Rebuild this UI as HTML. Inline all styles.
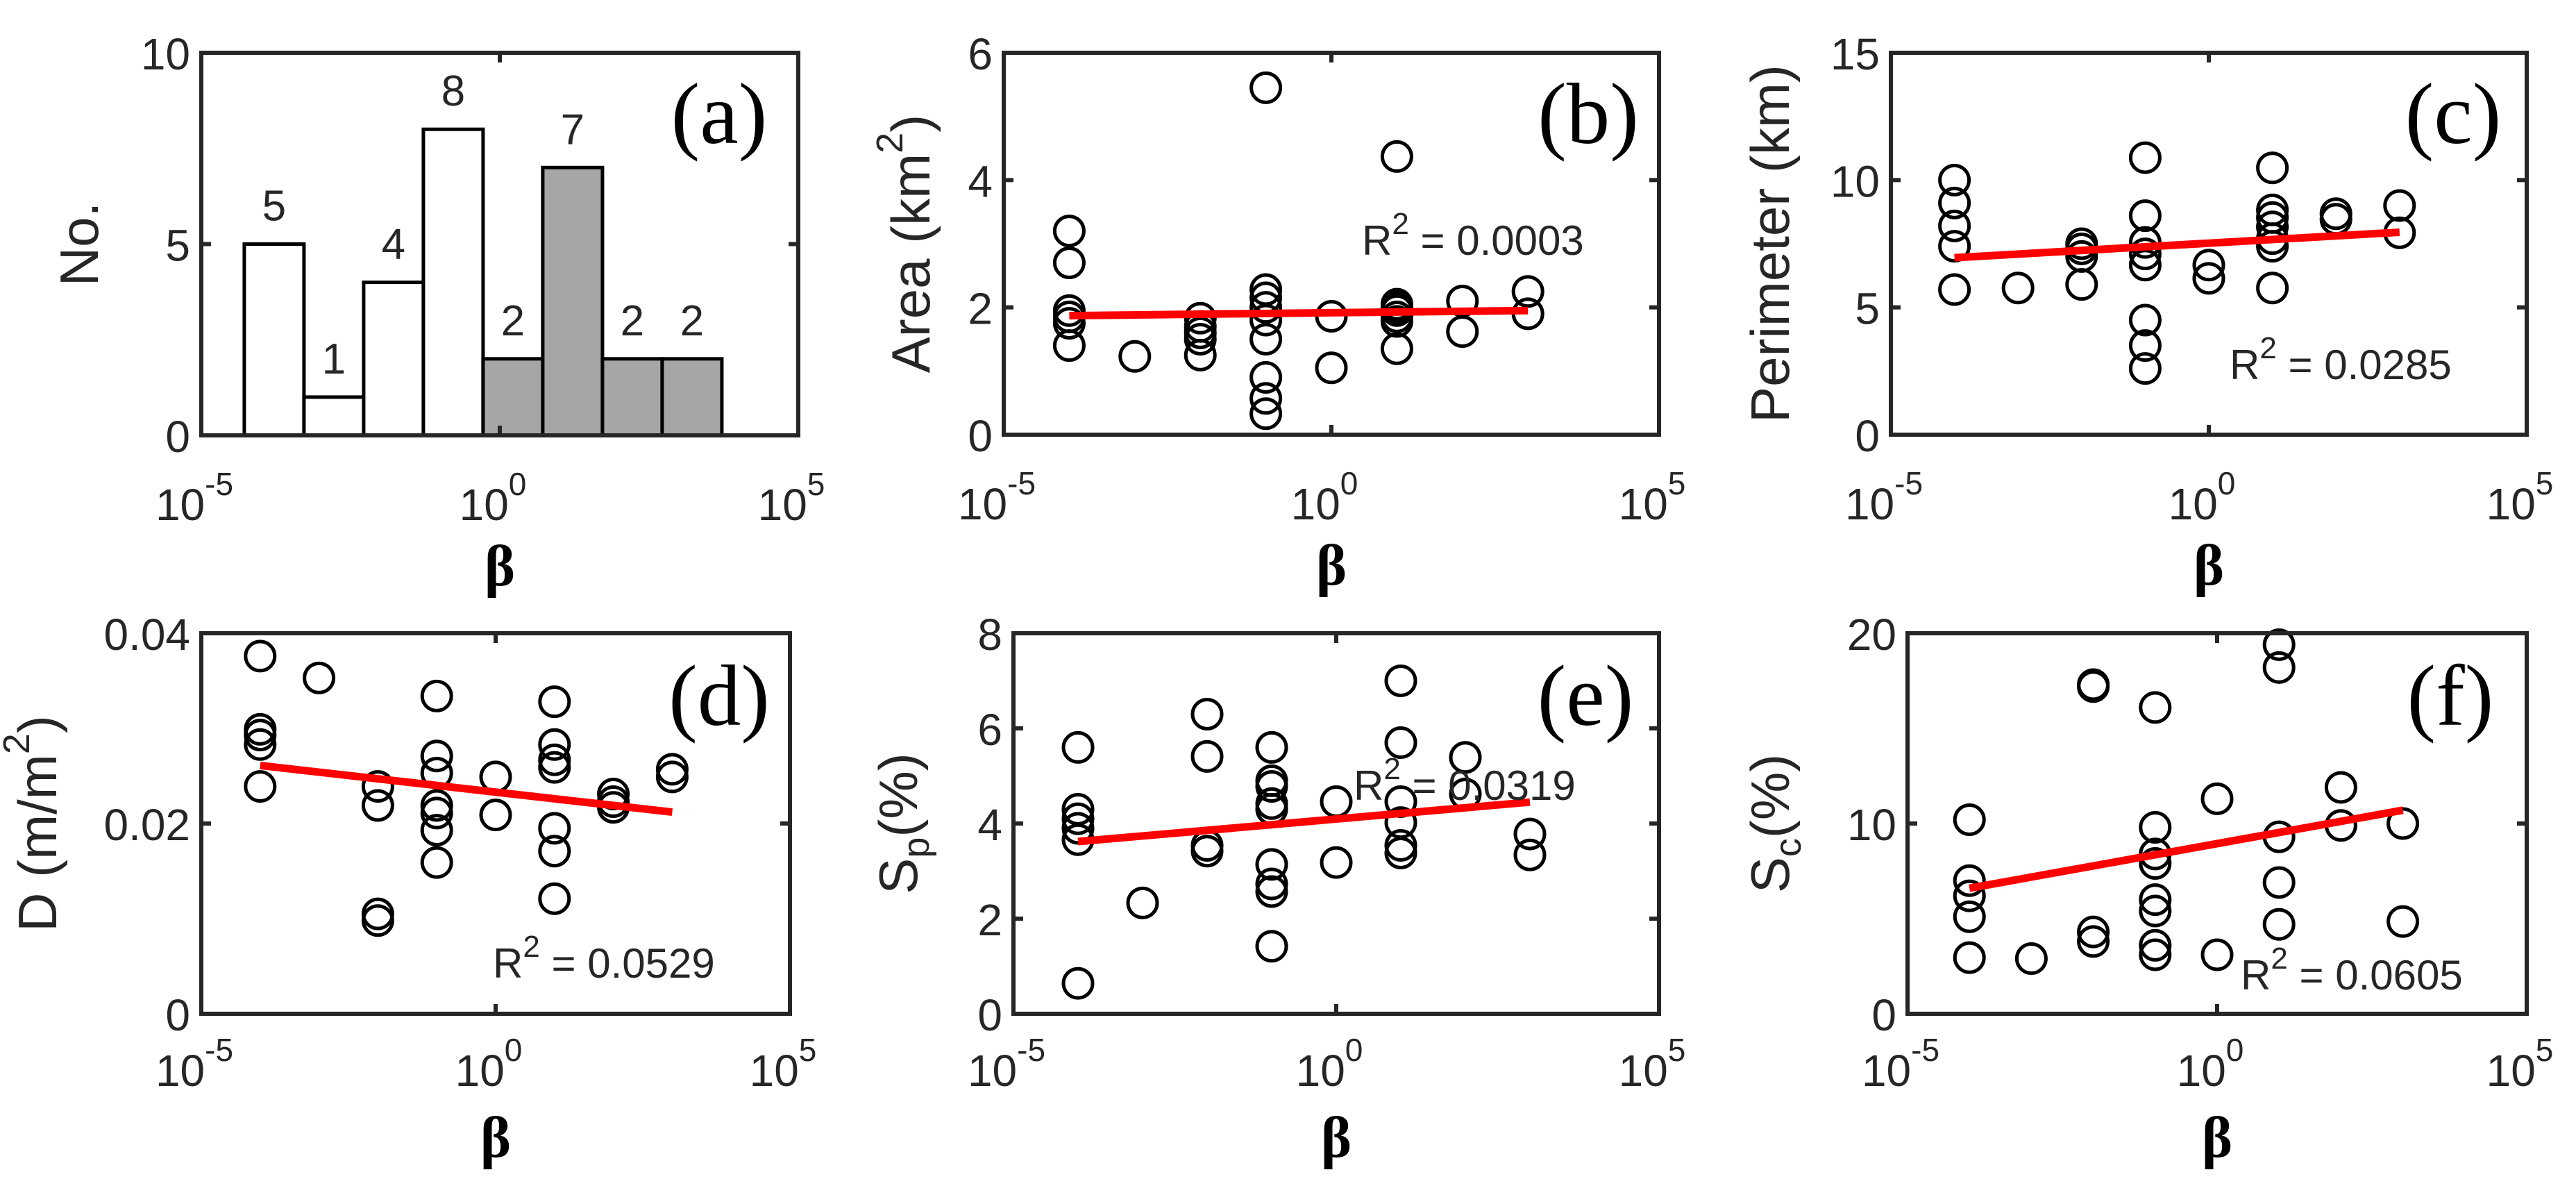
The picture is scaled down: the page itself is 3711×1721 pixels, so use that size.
<!DOCTYPE html>
<html><head><meta charset="utf-8"><style>
html,body{margin:0;padding:0;background:#fff;}
svg{display:block;}
text{font-family:"Liberation Sans",sans-serif;fill:#262626;}
.serif{font-family:"Liberation Serif",serif;fill:#000;}
</style></head><body>
<svg id="fig" width="3711" height="1721" viewBox="0 0 3711 1721" xmlns="http://www.w3.org/2000/svg"></svg>
<script>
// ---------- data ----------
const histCounts = [5, 1, 4, 8, 2, 7, 2, 2];
const histStartLog = -4.28;
const histShaded = [false, false, false, false, true, true, true, true];

const areaX = [-4,-4,-4,-4,-4,-4,-3,-2,-2,-2,-2,-2,-1,-1,-1,-1,-1,-1,-1,-1,-1,0,0,1,1,1,1,1,1,1,2,2,3,3];
const areaY = [3.2,2.7,1.95,1.85,1.75,1.4,1.23,1.83,1.7,1.6,1.5,1.25,5.45,2.28,2.15,2.0,1.8,1.5,0.9,0.57,0.33,1.86,1.05,4.37,2.05,2.0,1.95,1.85,1.78,1.35,2.1,1.62,2.25,1.9];
const areaFit = [1.87, 1.95];

const perimX = [-4,-4,-4,-4,-4,-3,-2,-2,-2,-2,-1,-1,-1,-1,-1,-1,-1,-1,0,0,1,1,1,1,1,1,1,2,2,3,3];
const perimY = [10.0,9.1,8.2,7.4,5.7,5.76,7.5,7.3,7.0,5.9,10.88,8.6,7.55,7.1,6.66,4.5,3.5,2.6,6.66,6.14,10.48,8.83,8.53,8.16,7.7,7.4,5.76,8.68,8.46,9.0,7.93];
const perimFit = [6.95, 7.95];

const dX = [-4,-4,-4,-4,-4,-3,-2,-2,-2,-2,-1,-1,-1,-1,-1,-1,-1,0,0,1,1,1,1,1,1,1,2,2,2,3,3];
const dY = [0.0376,0.0299,0.0293,0.0283,0.0239,0.0353,0.0239,0.0219,0.0105,0.0098,0.0334,0.0271,0.0253,0.0219,0.0211,0.0193,0.0159,0.0249,0.0209,0.0328,0.0283,0.0267,0.0259,0.0195,0.0171,0.0121,0.0231,0.0223,0.0217,0.0257,0.0249];
const dFit = [0.0261, 0.0212];

const spX = [-4,-4,-4,-4,-4,-4,-3,-2,-2,-2,-2,-1,-1,-1,-1,-1,-1,-1,-1,-1,0,0,1,1,1,1,1,1,2,2,3,3];
const spY = [5.6,4.3,4.1,3.9,3.66,0.64,2.33,6.3,5.41,3.54,3.42,5.6,4.9,4.78,4.42,4.3,3.14,2.73,2.57,1.42,4.46,3.18,7.0,5.7,4.46,4.02,3.54,3.38,5.39,4.62,3.78,3.34];
const spFit = [3.62, 4.45];

const scX = [-4,-4,-4,-4,-4,-3,-2,-2,-2,-2,-1,-1,-1,-1,-1,-1,-1,-1,0,0,1,1,1,1,1,2,2,3,3];
const scY = [10.2,7.0,6.2,5.1,2.95,2.9,17.3,17.2,4.3,3.8,16.1,9.8,8.4,7.9,6.0,5.4,3.6,3.1,11.3,3.1,19.4,18.2,9.3,6.9,4.7,11.9,9.9,10.0,4.85];
const scFit = [6.6, 10.7];

const xTickExp = ['-5','0','5'];

// ---------- helpers ----------
const NS = 'http://www.w3.org/2000/svg';
const svg = document.getElementById('fig');
function el(tag, attrs, parent, txt){
  const e = document.createElementNS(NS, tag);
  for (const k in attrs) e.setAttribute(k, attrs[k]);
  if (txt !== undefined) e.textContent = txt;
  (parent || svg).appendChild(e);
  return e;
}

function makeAxes(p){
  const g = el('g', {});
  
  
  const xs = v => p.L + (v + 5) / 10 * (p.R - p.L);
  const ys = v => p.B - v / p.ymax * (p.B - p.T);
  return {g, xs, ys};
}

function drawFrame(p, g, xs, ys){
  const tdy = p.tickDy || 122, bdy = p.betaDy || 216;
  const frame = el('rect', {x:p.L, y:p.T, width:p.R-p.L, height:p.B-p.T, fill:'none', stroke:'#262626', 'stroke-width':6}, g);
  
  
  [-5,0,5].forEach((v,i)=>{
    const x = xs(v);
    el('line',{x1:x,y1:p.B,x2:x,y2:p.B-14,stroke:'#262626','stroke-width':6},g);
    el('line',{x1:x,y1:p.T,x2:x,y2:p.T+14,stroke:'#262626','stroke-width':6},g);
    const t = el('text',{x:x-10,y:p.B+tdy,'font-size':64,'text-anchor':'middle'},g);
    
    
    el('tspan',{},t,'10');
    el('tspan',{dy:-36,'font-size':46},t,xTickExp[i]);
  });
  p.yticks.forEach((v,i)=>{
    const y = ys(v);
    el('line',{x1:p.L,y1:y,x2:p.L+14,y2:y,stroke:'#262626','stroke-width':6},g);
    el('line',{x1:p.R,y1:y,x2:p.R-14,y2:y,stroke:'#262626','stroke-width':6},g);
    const t = el('text',{x:p.L-16,y:y+24,'font-size':64,'text-anchor':'end'},g,p.ylabels[i]);
    
    
  });
  const xt = el('text',{class:'serif',x:(p.L+p.R)/2,y:p.B+bdy,'font-size':84,'font-weight':'bold','text-anchor':'middle'},g,'β');
  
  
  const cy = (p.T+p.B)/2;
  const yt = el('text',{x:p.yTitleX,y:cy,'font-size':78,'text-anchor':'middle',transform:'rotate(-90 '+p.yTitleX+' '+cy+')','dominant-baseline':'middle'},g);
  
  
  p.yTitle.forEach(part=>{
    const a = {};
    if (part.sup) { a.dy = -32; a['font-size'] = 54; }
    if (part.sub) { a.dy = 24; a['font-size'] = 54; }
    if (part.back) { a.dy = part.back; }
    el('tspan',a,yt,part.t);
  });
  const pl = el('text',{class:'serif',x:p.lab[0],y:p.lab[1],'font-size':125,'text-anchor':'middle'},g,'('+p.id+')');
  
  
}

function scatter(p, X, Y, fit, r2){
  const {g, xs, ys} = makeAxes(p);
  X.forEach((xv,i)=>{
    const c = el('circle',{cx:xs(xv),cy:ys(Y[i]),r:21,fill:'none',stroke:'#000','stroke-width':5},g);
    
    
  });
  const ln = el('line',{x1:xs(-4),y1:ys(fit[0]),x2:xs(3),y2:ys(fit[1]),stroke:'#ff0000','stroke-width':11},g);
  
  
  const t = el('text',{x:p.r2[0],y:p.r2[1],'font-size':60,fill:'#000'},g);
  
  
  el('tspan',{},t,'R');
  el('tspan',{dy:-30,'font-size':44},t,'2');
  el('tspan',{dy:30},t,' = '+r2);
  drawFrame(p, g, xs, ys);
}

(function(){
  const p = {id:'a',L:290,R:1150,T:76,B:627,ymax:10,yticks:[0,5,10],ylabels:['0','5','10'],yTitleX:120,yTitle:[{t:'No.'}],lab:[1036,206]};
  const {g, xs, ys} = makeAxes(p);
  histCounts.forEach((c,i)=>{
    const x0 = xs(histStartLog + i), x1 = xs(histStartLog + i + 1);
    const b = el('rect',{x:x0,y:ys(c),width:x1-x0,height:ys(0)-ys(c),fill:histShaded[i]?'#a6a6a6':'#fff',stroke:'#000','stroke-width':5},g);
    
    
    const t = el('text',{x:(x0+x1)/2,y:ys(c)-34,'font-size':62,'text-anchor':'middle'},g,String(c));
    
    
  });
  drawFrame(p, g, xs, ys);
})();

scatter({id:'b',L:1446,R:2390,T:76,B:626,ymax:6,yticks:[0,2,4,6],ylabels:['0','2','4','6'],yTitleX:1318,
  yTitle:[{t:'Area (km'},{t:'2',sup:true},{t:')',back:32}],lab:[2288,206],r2:[1962,367]}, areaX, areaY, areaFit, '0.0003');
scatter({id:'c',L:2724,R:3640,T:76,B:626,ymax:15,yticks:[0,5,10,15],ylabels:['0','5','10','15'],yTitleX:2556,
  yTitle:[{t:'Perimeter (km)'}],lab:[3534,206],r2:[3212,546]}, perimX, perimY, perimFit, '0.0285');
scatter({id:'d',L:290,R:1138,T:912,B:1460,ymax:0.04,yticks:[0,0.02,0.04],ylabels:['0','0.02','0.04'],yTitleX:60,tickDy:104,betaDy:206,
  yTitle:[{t:'D (m/m'},{t:'2',sup:true},{t:')',back:32}],lab:[1036,1044],r2:[710,1408]}, dX, dY, dFit, '0.0529');
scatter({id:'e',L:1460,R:2390,T:912,B:1460,ymax:8,yticks:[0,2,4,6,8],ylabels:['0','2','4','6','8'],yTitleX:1300,tickDy:104,betaDy:206,
  yTitle:[{t:'S'},{t:'p',sub:true},{t:'(%)',back:-24}],lab:[2284,1044],r2:[1950,1152]}, spX, spY, spFit, '0.0319');
scatter({id:'f',L:2748,R:3640,T:912,B:1460,ymax:20,yticks:[0,10,20],ylabels:['0','10','20'],yTitleX:2556,tickDy:104,betaDy:206,
  yTitle:[{t:'S'},{t:'c',sub:true},{t:'(%)',back:-24}],lab:[3530,1044],r2:[3228,1425]}, scX, scY, scFit, '0.0605');
</script>
</body></html>
